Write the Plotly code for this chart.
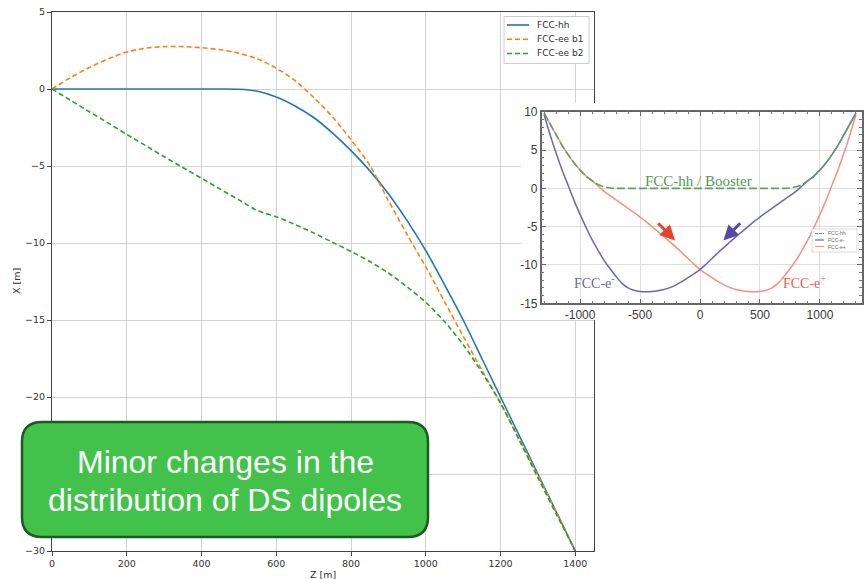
import plotly.graph_objects as go

# ---------------------------------------------------------------------------
# Beam trajectories: transverse offset X [m] versus longitudinal position Z [m]
# ---------------------------------------------------------------------------
z_m = [0, 50, 100, 150, 200, 250, 300, 350, 400, 450, 500, 550, 600, 650, 700,
       750, 800, 850, 900, 950, 1000, 1050, 1100, 1150, 1200, 1250, 1300, 1350, 1400]

fcc_hh = [0, 0, 0, 0, 0, 0, 0, 0, 0, 0, -0.02, -0.15, -0.52, -1.1, -1.85,
          -2.85, -4.0, -5.3, -6.8, -8.55, -10.5, -12.7, -15.0, -17.5, -20.0,
          -22.5, -25.0, -27.5, -30.0]

fcc_ee_b1 = [0, 0.75, 1.4, 1.95, 2.4, 2.65, 2.75, 2.75, 2.68, 2.55, 2.32, 1.95,
             1.35, 0.55, -0.55, -1.8, -3.3, -4.95, -7.25, -9.45, -11.55, -13.8,
             -16.05, -18.25, -20.4, -22.75, -25.1, -27.5, -30.0]

fcc_ee_b2 = [0, -0.74, -1.48, -2.2, -2.95, -3.67, -4.4, -5.1, -5.8, -6.5, -7.2,
             -7.9, -8.3, -8.8, -9.35, -9.95, -10.55, -11.2, -11.95, -12.85,
             -13.85, -15.1, -16.6, -18.4, -20.4, -22.8, -25.25, -27.65, -30.0]

main_x_ticks = [0, 200, 400, 600, 800, 1000, 1200, 1400]
main_y_ticks = [5, 0, -5, -10, -15, -20, -25, -30]

# ---------------------------------------------------------------------------
# Inset: layout of the three rings around the interaction point
# ---------------------------------------------------------------------------
inset_s = [-1300, -1250, -1200, -1150, -1100, -1050, -1000, -950, -900, -850,
           -800, -750, -700, -650, -600, -550, -500, -450, -400, -350, -300,
           -250, -200, -150, -100, -50, 0, 50, 100, 150, 200, 250, 300, 350,
           400, 450, 500, 550, 600, 650, 700, 750, 800, 850, 900, 950, 1000,
           1050, 1100, 1150, 1200, 1250, 1300]

inset_hh = [9.8, 8.4, 7.0, 5.6, 4.4, 3.3, 2.4, 1.6, 1.0, 0.5, 0.2, 0.05, 0, 0,
            0, 0, 0, 0, 0, 0, 0, 0, 0, 0, 0, 0, 0, 0, 0, 0, 0, 0, 0, 0, 0, 0, 0,
            0, 0, 0, 0, 0.05, 0.2, 0.5, 1.0, 1.6, 2.4, 3.3, 4.4, 5.6, 7.0, 8.4,
            9.8]

inset_e_minus = [9.6, 7.0, 4.6, 2.4, 0.4, -1.6, -3.4, -5.1, -6.7, -8.1, -9.4,
                 -10.5, -11.5, -12.4, -13.0, -13.3, -13.45, -13.5, -13.45,
                 -13.35, -13.2, -12.95, -12.6, -12.15, -11.65, -11.15, -10.6,
                 -9.9, -9.15, -8.4, -7.7, -7.0, -6.3, -5.65, -5.0, -4.35, -3.75,
                 -3.15, -2.6, -2.05, -1.5, -0.95, -0.4, 0.3, 1.0, 1.6, 2.4, 3.3,
                 4.4, 5.6, 7.0, 8.4, 9.8]

inset_e_plus = [9.8, 8.4, 7.0, 5.6, 4.4, 3.3, 2.4, 1.6, 1.0, 0.3, -0.4, -0.95,
                -1.5, -2.05, -2.6, -3.15, -3.75, -4.35, -5.0, -5.65, -6.3, -7.0,
                -7.7, -8.4, -9.15, -9.9, -10.6, -11.15, -11.65, -12.15, -12.6,
                -12.95, -13.2, -13.35, -13.45, -13.5, -13.45, -13.3, -13.0,
                -12.4, -11.5, -10.5, -9.4, -8.1, -6.7, -5.1, -3.4, -1.6, 0.4,
                2.4, 4.6, 7.0, 9.6]

inset_x_ticks = [-1000, -500, 0, 500, 1000]
inset_x_labels = ["-1000", "-500", "0", "500", "1000"]
inset_y_ticks = [10, 5, 0, -5, -10, -15]
inset_y_labels = ["10", "5", "0", "-5", "-10", "-15"]

W, H = 866, 579


def px(x):
    return x / W


def py(y):
    return 1 - y / H


MPL_FONT = "DejaVu Sans"
BLUE, ORANGE, GREEN = "#1f77b4", "#ff7f0e", "#2ca02c"
MAIN_DASH = "5px,3px"

main_series = [
    ("FCC-hh", fcc_hh, BLUE, "solid"),
    ("FCC-ee b1", fcc_ee_b1, ORANGE, MAIN_DASH),
    ("FCC-ee b2", fcc_ee_b2, GREEN, MAIN_DASH),
]

fig = go.Figure()

# main trajectories
for name, values, color, dash in main_series:
    fig.add_trace(go.Scatter(x=z_m, y=values, name=name, mode="lines",
                             showlegend=False,
                             line=dict(color=color, width=1.6, dash=dash,
                                       shape="spline", smoothing=0.8)))

# blank white panel holding the inset
fig.add_trace(go.Scatter(x=[None], y=[None], xaxis="x2", yaxis="y2",
                         showlegend=False, hoverinfo="skip"))

# inset curves
fig.add_trace(go.Scatter(x=inset_s, y=inset_e_plus, xaxis="x3", yaxis="y3",
                         mode="lines", showlegend=False, name="FCC-e+",
                         line=dict(color="#f2917e", width=1.5, shape="spline")))
fig.add_trace(go.Scatter(x=inset_s, y=inset_e_minus, xaxis="x3", yaxis="y3",
                         mode="lines", showlegend=False, name="FCC-e-",
                         line=dict(color="#6b66b2", width=1.5, shape="spline")))
fig.add_trace(go.Scatter(x=inset_s, y=inset_hh, xaxis="x3", yaxis="y3",
                         mode="lines", showlegend=False, name="FCC-hh",
                         line=dict(color="#5aa55a", width=1.6, dash="8px,3px",
                                   shape="spline")))

main_axis_common = dict(
    showgrid=True, gridcolor="#d2d2d2", gridwidth=1, zeroline=False,
    showline=True, linecolor="#444444", linewidth=1, mirror=True,
    ticks="outside", ticklen=4, tickcolor="#444444", automargin=False,
    tickfont=dict(family=MPL_FONT, size=9.5, color="#333333"),
)

inset_axis_common = dict(
    showgrid=True, gridcolor="#dedede", gridwidth=1, zeroline=False,
    showline=True, linecolor="#666666", linewidth=1.5, mirror="allticks",
    ticks="inside", ticklen=5, tickcolor="#666666", automargin=False,
    tickfont=dict(family="Liberation Sans", size=12, color="#3a3a3a"),
)

fig.update_layout(
    width=W, height=H,
    margin=dict(l=0, r=0, t=0, b=0, autoexpand=False),
    paper_bgcolor="white", plot_bgcolor="white",
    showlegend=False,
    xaxis=dict(domain=[px(52), px(594)], range=[0, 1450], anchor="y",
               tickvals=main_x_ticks, **main_axis_common),
    yaxis=dict(domain=[py(551), py(12)], range=[-30, 5], anchor="x",
               tickvals=main_y_ticks, **main_axis_common),
    xaxis2=dict(domain=[px(521), 1.0], range=[0, 1], anchor="y2", visible=False),
    yaxis2=dict(domain=[py(320), py(103)], range=[0, 1], anchor="x2", visible=False),
    xaxis3=dict(domain=[px(541.7), px(861.7)], range=[-1320, 1348], anchor="y3",
                tickvals=inset_x_ticks, ticktext=inset_x_labels,
                minor=dict(dtick=100, tick0=0, ticks="inside", ticklen=3,
                           tickcolor="#777777", showgrid=False),
                **inset_axis_common),
    yaxis3=dict(domain=[py(303.3), py(111.7)], range=[-15, 10], anchor="x3",
                tickvals=inset_y_ticks, ticktext=inset_y_labels,
                minor=dict(dtick=1, tick0=0, ticks="inside", ticklen=3,
                           tickcolor="#777777", showgrid=False),
                **inset_axis_common),
)

# legend of the main plot (matplotlib-style frame, upper right)
fig.add_shape(type="rect", xref="paper", yref="paper",
              x0=px(504), x1=px(589), y0=py(63.5), y1=py(16.5),
              line=dict(color="#cccccc", width=1), fillcolor="white", layer="above")
legend_rows_y = [25.0, 39.3, 53.5]
for (name, values, color, dash), yy in zip(main_series, legend_rows_y):
    fig.add_shape(type="line", xref="paper", yref="paper",
                  x0=px(507), x1=px(529), y0=py(yy), y1=py(yy),
                  line=dict(color=color, width=1.6, dash=dash), layer="above")
    fig.add_annotation(text=name, x=px(535), y=py(yy), xref="paper", yref="paper",
                       showarrow=False, xanchor="left", yanchor="middle",
                       font=dict(family=MPL_FONT, size=9, color="#333333"))

# rounded green call-out box
x0, x1, y0, y1, r = 22, 428, 422, 537, 20
box_path = (
    f"M {px(x0 + r)},{py(y0)} L {px(x1 - r)},{py(y0)} "
    f"Q {px(x1)},{py(y0)} {px(x1)},{py(y0 + r)} L {px(x1)},{py(y1 - r)} "
    f"Q {px(x1)},{py(y1)} {px(x1 - r)},{py(y1)} L {px(x0 + r)},{py(y1)} "
    f"Q {px(x0)},{py(y1)} {px(x0)},{py(y1 - r)} L {px(x0)},{py(y0 + r)} "
    f"Q {px(x0)},{py(y0)} {px(x0 + r)},{py(y0)} Z"
)
fig.add_shape(type="path", path=box_path, xref="paper", yref="paper",
              fillcolor="#43c24b", line=dict(color="#1d5a20", width=2.5),
              layer="above")

box_font = dict(family="Liberation Sans", size=32, color="white")
fig.add_annotation(text="Minor changes in the", x=px(225), y=py(461.6),
                   xref="paper", yref="paper", showarrow=False,
                   xanchor="center", yanchor="middle", font=box_font)
fig.add_annotation(text="distribution of DS dipoles", x=px(225), y=py(499.6),
                   xref="paper", yref="paper", showarrow=False,
                   xanchor="center", yanchor="middle", font=box_font)

# axis titles of the main plot
fig.add_annotation(text="Z [m]", x=px(323), y=py(574.5), xref="paper", yref="paper",
                   showarrow=False, xanchor="center", yanchor="middle",
                   font=dict(family=MPL_FONT, size=9.5, color="#333333"))
fig.add_annotation(text="X [m]", x=px(16), y=py(281), xref="paper", yref="paper",
                   showarrow=False, xanchor="center", yanchor="middle",
                   textangle=-90,
                   font=dict(family=MPL_FONT, size=9.5, color="#333333"))

# inset labels
serif = "Liberation Serif"
fig.add_annotation(text="FCC-hh / Booster", x=-15, y=1.0, xref="x3", yref="y3",
                   showarrow=False, xanchor="center", yanchor="middle",
                   font=dict(family=serif, size=15, color="#4f9a4f"))
fig.add_annotation(text="FCC-e<sup>-</sup>", x=-880, y=-12.2, xref="x3", yref="y3",
                   showarrow=False, xanchor="center", yanchor="middle",
                   font=dict(family=serif, size=14, color="#6864aa"))
fig.add_annotation(text="FCC-e<sup>+</sup>", x=870, y=-12.2, xref="x3", yref="y3",
                   showarrow=False, xanchor="center", yanchor="middle",
                   font=dict(family=serif, size=14, color="#e0604f"))

# direction arrows of the two lepton beams
fig.add_annotation(x=-208, y=-6.8, ax=-361, ay=-4.35, xref="x3", yref="y3",
                   axref="x3", ayref="y3", text="", showarrow=True,
                   arrowhead=2, arrowsize=1.0, arrowwidth=3, arrowcolor="#e5432e")
fig.add_annotation(x=195, y=-6.8, ax=347, ay=-4.35, xref="x3", yref="y3",
                   axref="x3", ayref="y3", text="", showarrow=True,
                   arrowhead=2, arrowsize=1.0, arrowwidth=3, arrowcolor="#5649a8")

# small key inside the inset
fig.add_shape(type="rect", xref="paper", yref="paper",
              x0=px(812), x1=px(857), y0=py(252), y1=py(229),
              line=dict(color="#cfcfcf", width=0.8), fillcolor="white", layer="above")
key_rows = [("FCC-hh", "#5aa55a", "3px,1px", 233.5),
            ("FCC-e-", "#6b66b2", "solid", 240.0),
            ("FCC-e+", "#f2917e", "solid", 246.5)]
for label, color, dash, yy in key_rows:
    fig.add_shape(type="line", xref="paper", yref="paper",
                  x0=px(815), x1=px(824), y0=py(yy), y1=py(yy),
                  line=dict(color=color, width=1.2, dash=dash), layer="above")
    fig.add_annotation(text=label, x=px(826), y=py(yy), xref="paper", yref="paper",
                       showarrow=False, xanchor="left", yanchor="middle",
                       font=dict(family="Liberation Sans", size=5, color="#666666"))

fig.write_html("out.html")
